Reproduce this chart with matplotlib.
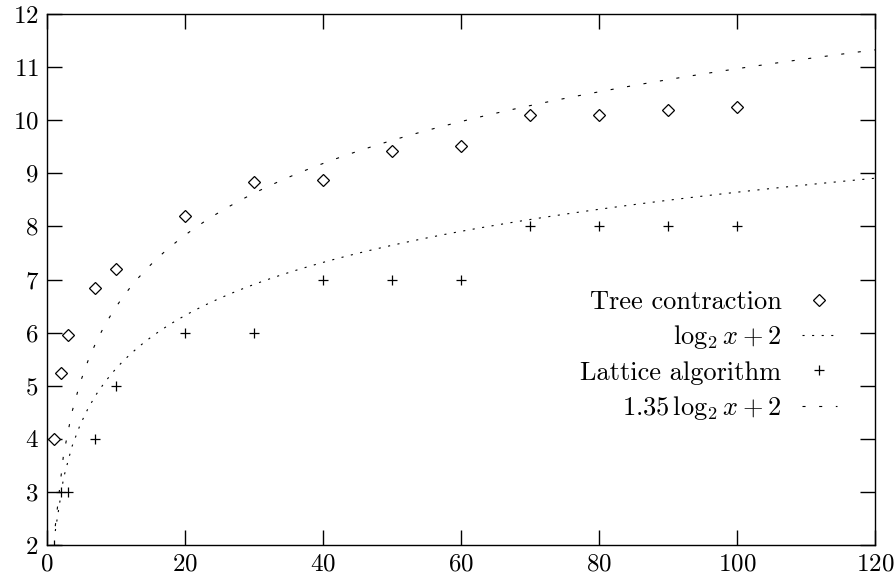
import numpy as np
import matplotlib
matplotlib.use("Agg")
import matplotlib.pyplot as plt

# data
tree_x = [1, 2, 3, 7, 10, 20, 30, 40, 50, 60, 70, 80, 90, 100]
tree_y = [4.0, 5.23, 5.95, 6.84, 7.2, 8.2, 8.83, 8.87, 9.42, 9.51, 10.1, 10.1, 10.19, 10.24]
lat_x = [1, 2, 3, 7, 10, 20, 30, 40, 50, 60, 70, 80, 90, 100]
lat_y = [2, 3, 3, 4, 5, 6, 6, 7, 7, 7, 8, 8, 8, 8]
xticks = [0, 20, 40, 60, 80, 100, 120]
yticks = [2, 3, 4, 5, 6, 7, 8, 9, 10, 11, 12]

plt.rcParams['font.family'] = ['cmr10', 'DejaVu Serif']
plt.rcParams['mathtext.fontset'] = 'cm'
plt.rcParams['axes.formatter.use_mathtext'] = True
plt.rcParams['lines.scale_dashes'] = False

fig = plt.figure(figsize=(8.95, 5.8), dpi=100)
ax = fig.add_axes([47/895, 35/580, 828/895, 531/580])

xs = np.linspace(1.2, 120, 100)
ax.plot(tree_x, tree_y, linestyle='none', marker='D', markersize=6,
        markerfacecolor='white', markeredgecolor='black', markeredgewidth=0.9,
        label='Tree contraction')
ax.plot(xs, np.log2(xs) + 2, color='black', linewidth=0.8,
        dashes=(1.5, 5.4), label=r'$\log_2 x + 2$')
ax.plot(lat_x, lat_y, linestyle='none', marker='+', markersize=7.5,
        color='black', markeredgewidth=0.9, label='Lattice algorithm')
ax.plot(xs, 1.35 * np.log2(xs) + 2, color='black', linewidth=0.8,
        dashes=(2.2, 9.8), label=r'$1.35\,\log_2 x + 2$')

ax.set_xlim(0, 120)
ax.set_ylim(2, 12)
ax.set_xticks(xticks)
ax.set_yticks(yticks)
ax.tick_params(direction='in', length=11, width=1, top=True, right=True,
               labelsize=18, pad=6)
for s in ax.spines.values():
    s.set_linewidth(1)

leg = ax.legend(loc='upper right', bbox_to_anchor=(0.9665, 0.50),
                markerfirst=False, frameon=False, fontsize=19,
                handlelength=1.33, handletextpad=0.76, labelspacing=0.36,
                borderaxespad=0)
for t in leg.get_texts():
    t.set_ha('right')
leg._legend_box.align = 'right'

fig.savefig('out.png', dpi=100)
